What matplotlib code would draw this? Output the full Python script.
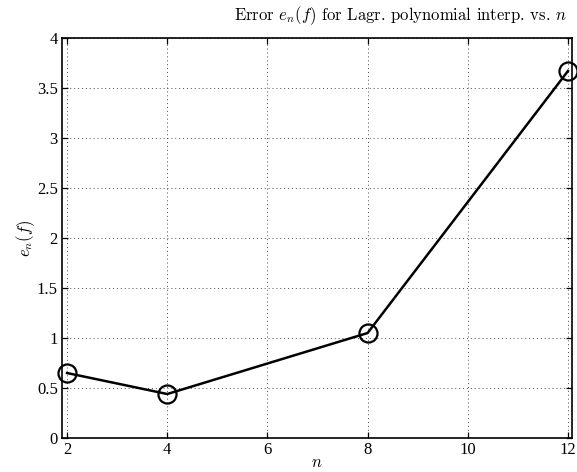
import matplotlib
matplotlib.use('Agg')
import matplotlib.pyplot as plt

# datos
n = [2, 4, 8, 12]
err = [0.65, 0.44, 1.05, 3.67]
xticks = [2, 4, 6, 8, 10, 12]
yticks = [0, 0.5, 1, 1.5, 2, 2.5, 3, 3.5, 4]
ytick_labels = ['0', '0.5', '1', '1.5', '2', '2.5', '3', '3.5', '4']

plt.rcParams['mathtext.fontset'] = 'cm'
plt.rcParams['font.family'] = ['Liberation Serif', 'DejaVu Serif']

fig = plt.figure(figsize=(5.77, 4.72), dpi=100)
ax = fig.add_axes([0.1075, 0.072, 0.8838, 0.8475])

ax.plot(n, err, color='black', linewidth=1.8, marker='o', markersize=13,
        markerfacecolor='none', markeredgecolor='black', markeredgewidth=1.6,
        clip_on=False, zorder=3)

ax.set_xlim(1.9, 12.08)
ax.set_ylim(0, 4)
ax.set_xticks(xticks)
ax.set_yticks(yticks)
ax.set_yticklabels(ytick_labels)
ax.tick_params(direction='in', top=True, right=True, length=4, width=0.9,
               labelsize=12, pad=3)
ax.grid(True, linestyle=(0, (1, 3)), color='black', linewidth=0.7, alpha=0.7)
for sp in ax.spines.values():
    sp.set_linewidth(1.2)

ax.set_xlabel('$n$', fontsize=12, labelpad=-2)
ax.set_ylabel('$e_n(f)$', fontsize=12, labelpad=0)

fig.text(567 / 577, 1 - 20 / 472, 'Error $e_n(f)$ for Lagr. polynomial interp. vs. $n$',
         ha='right', va='baseline', fontsize=12, family='cmr10')

plt.savefig('out.png', dpi=100)
